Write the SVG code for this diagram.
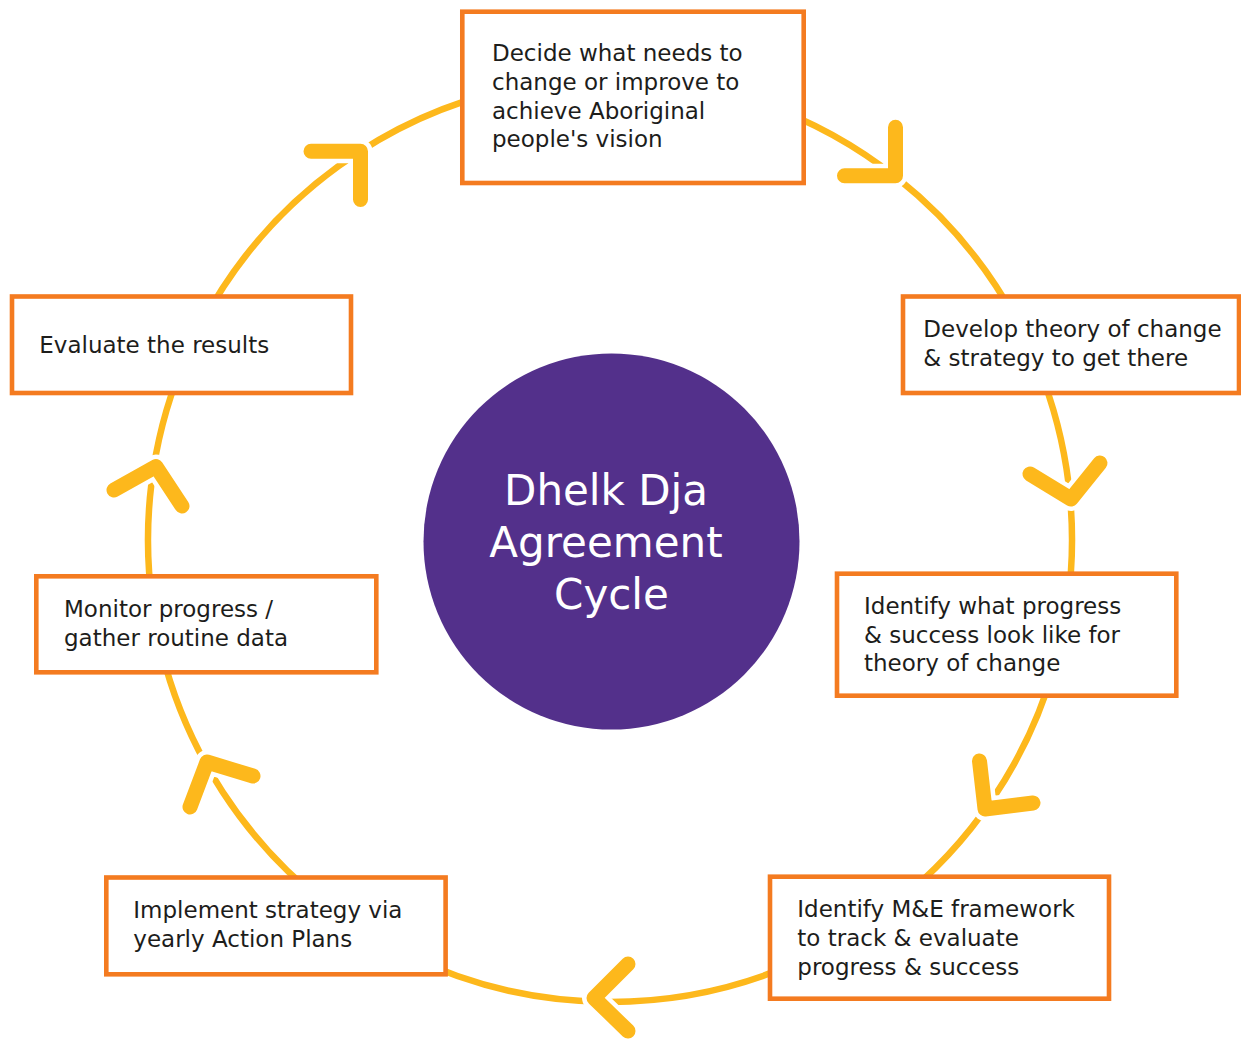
<svg xmlns="http://www.w3.org/2000/svg" width="1241" height="1039" viewBox="0 0 1241 1039">
<style>
.bg{fill:#ffffff}
.arc{fill:none;stroke:#FDB81C;stroke-width:6.5}
.halo{fill:none;stroke:#ffffff;stroke-width:24;stroke-linecap:round;stroke-linejoin:round}
.chev{fill:none;stroke:#FDB81C;stroke-width:15;stroke-linecap:round;stroke-linejoin:round}
.box{fill:#ffffff;stroke:#F47B20;stroke-width:4.6}
.lbl{font-family:"DejaVu Sans",Verdana,sans-serif;font-size:23px;fill:#1D1D1B}
.hub{fill:#53308B}
.hubtxt{font-family:"DejaVu Sans",Verdana,sans-serif;font-size:42px;fill:#ffffff;text-anchor:middle}
</style>
<rect class="bg" x="0" y="0" width="1241" height="1039"/>
<g id="connectors">
  <path id="c1" class="arc" d="M729.6,93.7 A462,462 0 0 1 1017.9,323.1"/>
  <path id="c2" class="arc" d="M1038.4,366.9 A462,462 0 0 1 1067.5,604.3"/>
  <path id="c3" class="arc" d="M1054.1,667.3 A462,462 0 0 1 894.4,904.1"/>
  <path id="c4" class="arc" d="M812.5,955.2 A462,462 0 0 1 407.5,955.2"/>
  <path id="c5" class="arc" d="M325.6,904.1 A462,462 0 0 1 161.7,651.8"/>
  <path id="c6" class="arc" d="M152.5,604.3 A462,462 0 0 1 181.6,366.9"/>
  <path id="c7" class="arc" d="M202.1,323.1 A462,462 0 0 1 529.8,85"/>
  <g id="arrowheads">
    <path class="halo" d="M311,151.2 L360.5,151.2 L360.5,199.5"/>
    <path class="chev" d="M311,151.2 L360.5,151.2 L360.5,199.5"/>
    <path class="halo" d="M895.5,127.2 L895.5,175.8 L844.5,175.8"/>
    <path class="chev" d="M895.5,127.2 L895.5,175.8 L844.5,175.8"/>
    <path class="halo" d="M1030,474 L1071,499 L1100,463"/>
    <path class="chev" d="M1030,474 L1071,499 L1100,463"/>
    <path class="halo" d="M979.5,761 L985,809 L1033,803"/>
    <path class="chev" d="M979.5,761 L985,809 L1033,803"/>
    <path class="halo" d="M628,964 L594,998 L628,1031"/>
    <path class="chev" d="M628,964 L594,998 L628,1031"/>
    <path class="halo" d="M190,807 L207,762 L253,776"/>
    <path class="chev" d="M190,807 L207,762 L253,776"/>
    <path class="halo" d="M114,490 L156,466.5 L182,506"/>
    <path class="chev" d="M114,490 L156,466.5 L182,506"/>
  </g>
</g>
<g id="hub">
  <circle class="hub" cx="611.5" cy="541.5" r="188"/>
  <text class="hubtxt" x="606" y="505">Dhelk Dja</text>
  <text class="hubtxt" x="606" y="556.5">Agreement</text>
  <text class="hubtxt" x="611.5" y="609">Cycle</text>
</g>
<g id="n1">
  <rect class="box" x="462.3" y="11.7" width="341.4" height="171.3"/>
  <text class="lbl" x="492" y="61">Decide what needs to</text>
  <text class="lbl" x="492" y="90">change or improve to</text>
  <text class="lbl" x="492" y="118.7">achieve Aboriginal</text>
  <text class="lbl" x="492" y="147">people's vision</text>
</g>
<g id="n2">
  <rect class="box" x="903" y="296.5" width="336" height="96.5"/>
  <text class="lbl" x="923.3" y="337.3">Develop theory of change</text>
  <text class="lbl" x="923.3" y="366">&amp; strategy to get there</text>
</g>
<g id="n3">
  <rect class="box" x="837" y="573.7" width="339.3" height="122"/>
  <text class="lbl" x="864" y="614">Identify what progress</text>
  <text class="lbl" x="864" y="642.7">&amp; success look like for</text>
  <text class="lbl" x="864" y="671.3">theory of change</text>
</g>
<g id="n4">
  <rect class="box" x="770" y="876.7" width="339" height="122"/>
  <text class="lbl" x="797.3" y="917.3">Identify M&amp;E framework</text>
  <text class="lbl" x="797.3" y="946">to track &amp; evaluate</text>
  <text class="lbl" x="797.3" y="975">progress &amp; success</text>
</g>
<g id="n5">
  <rect class="box" x="106.3" y="877.5" width="339.3" height="96.8"/>
  <text class="lbl" x="133.3" y="918.3">Implement strategy via</text>
  <text class="lbl" x="133.3" y="946.7">yearly Action Plans</text>
</g>
<g id="n6">
  <rect class="box" x="36.3" y="576.3" width="340" height="96"/>
  <text class="lbl" x="64" y="616.7">Monitor progress /</text>
  <text class="lbl" x="64" y="645.7">gather routine data</text>
</g>
<g id="n7">
  <rect class="box" x="12" y="296.5" width="339" height="96.5"/>
  <text class="lbl" x="39.3" y="353.3">Evaluate the results</text>
</g>
</svg>
